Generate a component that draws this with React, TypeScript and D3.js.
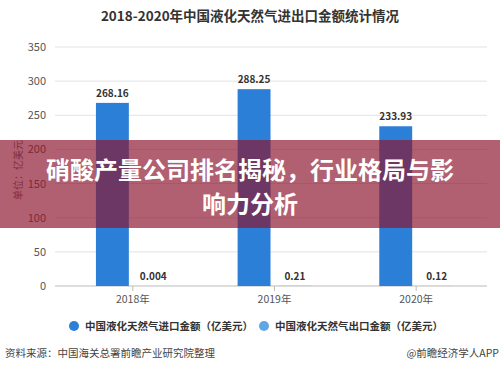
import React from 'react';
import * as d3 from 'd3';

const years = ['2018年', '2019年', '2020年'];
const importValues = [268.16, 288.25, 233.93];
const exportValues = [0.004, 0.21, 0.12];
const importLabels = ['268.16', '288.25', '233.93'];
const exportLabels = ['0.004', '0.21', '0.12'];
const yTicks = [0, 50, 100, 150, 200, 250, 300, 350];
const seriesNames = ['中国液化天然气进口金额（亿美元）', '中国液化天然气出口金额（亿美元）'];
const seriesColors = ['#2b7fd6', '#5ea6e6'];

const W = 500;
const H = 370;
const font = '"Noto Sans CJK SC", "Noto Sans", sans-serif';

const App = () => {
    const x = d3.scaleBand().domain(years).range([62, 487]);
    const inner = d3.scaleBand().domain(['imp', 'exp']).range([0, x.bandwidth()]).paddingInner(0.195).paddingOuter(0.83);
    const y = d3.scaleLinear().domain([0, 350]).range([286, 47]);

    return (
        <svg width={W} height={H} style={{ position: 'absolute', left: 0, top: 0, background: '#fff' }} fontFamily={font}>
            <text x={250} y={21} textAnchor="middle" fontSize={13.5} fontWeight="bold" fill="#333">
                2018-2020年中国液化天然气进出口金额统计情况
            </text>

            {yTicks.map(t => (
                <g key={t}>
                    <line x1={55} x2={487} y1={y(t)} y2={y(t)} stroke={t === 0 ? '#bbb' : '#e3e3e3'} strokeWidth={1} />
                    <text x={46} y={y(t) + 4} textAnchor="end" fontSize={11} fill="#555">{t}</text>
                </g>
            ))}

            <text transform="translate(22,170) rotate(-90)" textAnchor="middle" fontSize={10} fill="#666">单位：亿美元</text>

            {years.map((yr, i) => {
                const x0 = x(yr) as number;
                const bw = inner.bandwidth();
                const xi = x0 + (inner('imp') as number);
                const xe = x0 + (inner('exp') as number);
                return (
                    <g key={yr}>
                        <rect x={xi} y={y(importValues[i])} width={bw} height={y(0) - y(importValues[i])} fill={seriesColors[0]} />
                        <rect x={xe} y={y(exportValues[i])} width={bw} height={Math.max(0, y(0) - y(exportValues[i]))} fill={seriesColors[1]} />
                        <text x={xi + bw / 2} y={y(importValues[i]) - 6} textAnchor="middle" fontSize={10} fontWeight="bold" fill="#333">{importLabels[i]}</text>
                        <text x={xe + bw / 2} y={y(exportValues[i]) - 6} textAnchor="middle" fontSize={10} fontWeight="bold" fill="#333">{exportLabels[i]}</text>
                        <line x1={x0 + x.bandwidth() / 2} x2={x0 + x.bandwidth() / 2} y1={286} y2={291} stroke="#bbb" />
                        <text x={x0 + x.bandwidth() / 2} y={303} textAnchor="middle" fontSize={10.5} fill="#555">{yr}</text>
                    </g>
                );
            })}

            {seriesNames.map((n, i) => (
                <g key={n} transform={`translate(${i === 0 ? 74 : 264},326)`}>
                    <circle cx={0} cy={0} r={5} fill={seriesColors[i]} />
                    <text x={11} y={4} fontSize={10.5} fontWeight="bold" fill="#333">{n}</text>
                </g>
            ))}

            <text x={5} y={357} fontSize={10.5} fill="#444">资料来源：中国海关总署前瞻产业研究院整理</text>
            <text x={499} y={357} textAnchor="end" fontSize={10.5} fill="#444">@前瞻经济学人APP</text>

            <rect x={0} y={140} width={W} height={88} fill="rgba(140,20,45,0.68)" />
            <text x={250} y={179} textAnchor="middle" fontSize={24} fontWeight="bold" fill="#fff">硝酸产量公司排名揭秘，行业格局与影</text>
            <text x={250} y={213} textAnchor="middle" fontSize={24} fontWeight="bold" fill="#fff">响力分析</text>
        </svg>
    );
};

export default App;
